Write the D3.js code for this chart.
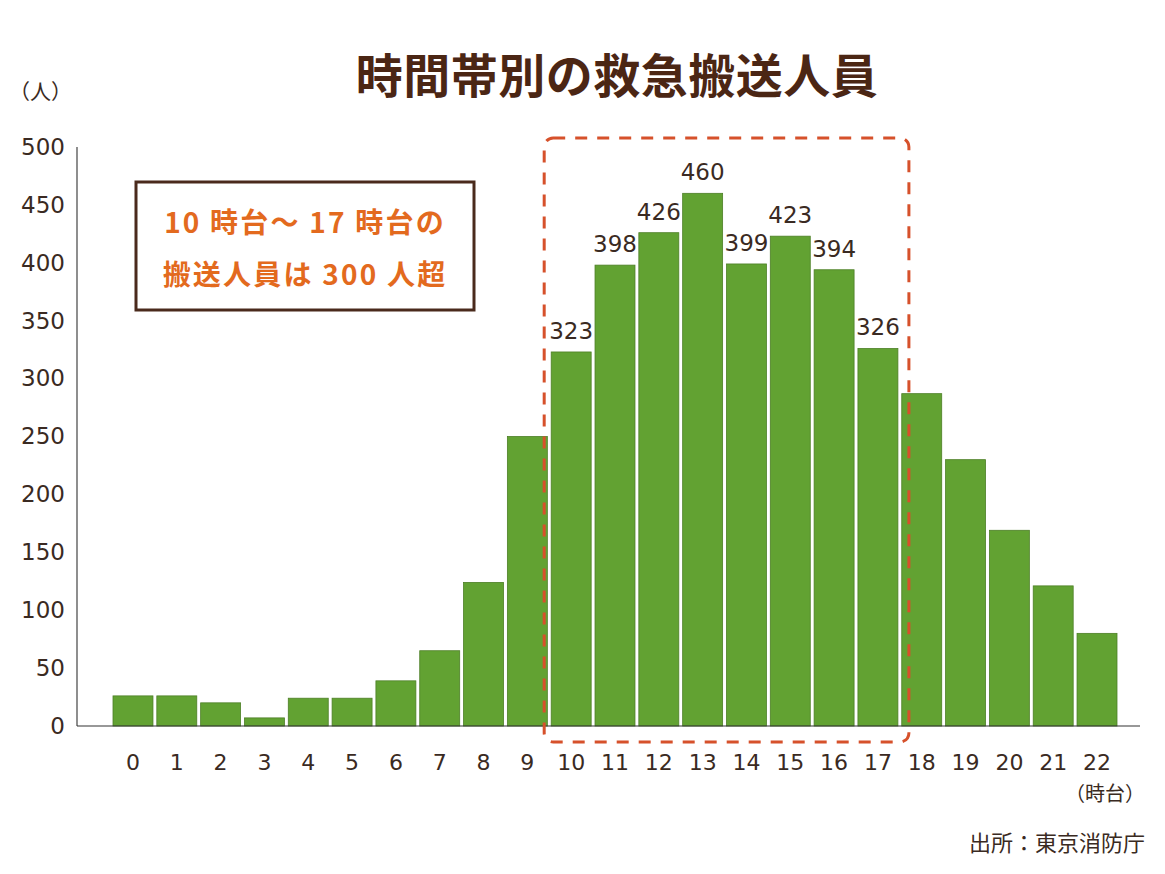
<!DOCTYPE html>
<html><head><meta charset="utf-8">
<script src="https://cdn.jsdelivr.net/npm/d3@7/dist/d3.min.js"></script>
<style>
body{margin:0;background:#fff;}
text{font-family:"DejaVu Sans","Noto Sans CJK JP",sans-serif;}
.jp{font-family:"Noto Sans CJK JP","DejaVu Sans",sans-serif;}
</style></head>
<body><svg id="c" width="1165" height="874"></svg>
<script>
const hours = ["0","1","2","3","4","5","6","7","8","9","10","11","12","13","14","15","16","17","18","19","20","21","22"];
const values = [26,26,20,7,24,24,39,65,124,250,323,398,426,460,399,423,394,326,287,230,169,121,80];
const labeledHours = ["10","11","12","13","14","15","16","17"];
const yTicks = [0,50,100,150,200,250,300,350,400,450,500];
const highlightRange = ["10","17"];

const svg = d3.select("#c");
const x = d3.scaleBand().domain(hours).range([113,1117]).paddingInner(0.088).paddingOuter(0);
const y = d3.scaleLinear().domain([0,500]).range([726,147]);
const textCol = "#3a2a22";

// title
svg.append("text").attr("class","jp").attr("x",617).attr("y",93).attr("text-anchor","middle")
  .attr("font-size",47).attr("font-weight","bold").attr("letter-spacing",0.5).attr("fill","#4b2614").text("時間帯別の救急搬送人員");
svg.append("text").attr("class","jp").attr("x",9).attr("y",99)
  .attr("font-size",21).attr("fill",textCol).text("（人）");

// y axis
const ya = svg.append("g").attr("transform","translate(77,0)")
  .call(d3.axisLeft(y).tickValues(yTicks).tickSize(0).tickPadding(12));
ya.select(".domain").remove();
ya.selectAll("text").attr("font-size",23).attr("fill",textCol).attr("font-family","DejaVu Sans");
svg.append("line").attr("x1",77).attr("x2",77).attr("y1",y(500)).attr("y2",y(0)).attr("stroke","#444").attr("stroke-width",1.2);

// bars
svg.append("g").selectAll("rect").data(hours).join("rect")
  .attr("x",d=>x(d)).attr("width",x.bandwidth())
  .attr("y",(d,i)=>y(values[i])).attr("height",(d,i)=>y(0)-y(values[i]))
  .attr("fill","#62a232").attr("stroke","#4d7f26").attr("stroke-width",0.8);

// baseline
svg.append("line").attr("x1",77).attr("x2",1140).attr("y1",y(0)).attr("y2",y(0)).attr("stroke","#333").attr("stroke-width",1.2);

// x axis labels
const xa = svg.append("g").attr("transform","translate(0,"+y(0)+")")
  .call(d3.axisBottom(x).tickSize(0).tickPadding(28));
xa.select(".domain").remove();
xa.selectAll("text").attr("font-size",22).attr("fill",textCol).attr("font-family","DejaVu Sans");
svg.append("text").attr("class","jp").attr("x",1145).attr("y",801).attr("text-anchor","end")
  .attr("font-size",20).attr("fill",textCol).text("（時台）");

// value labels
svg.append("g").selectAll("text").data(labeledHours).join("text")
  .attr("x",d=>x(d)+x.bandwidth()/2).attr("y",d=>y(values[hours.indexOf(d)])-13)
  .attr("text-anchor","middle").attr("font-size",23).attr("fill",textCol).attr("font-family","DejaVu Sans")
  .text(d=>values[hours.indexOf(d)]);

// dashed highlight
const hx0 = x(highlightRange[0]) - 7, hx1 = x(highlightRange[1]) + x.bandwidth() + 11;
svg.append("rect").attr("x",hx0).attr("y",138).attr("width",hx1-hx0).attr("height",742-138)
  .attr("rx",9).attr("fill","none").attr("stroke","#d6512b").attr("stroke-width",3)
  .attr("stroke-dasharray","12,10");

// annotation box
svg.append("rect").attr("x",136).attr("y",182).attr("width",338).attr("height",128)
  .attr("fill","#fff").attr("stroke","#4a2a1c").attr("stroke-width",3);
svg.append("text").attr("class","jp").attr("x",305).attr("y",233).attr("text-anchor","middle")
  .attr("font-size",28).attr("font-weight","bold").attr("letter-spacing",2.2).attr("fill","#e36a1e").text("10 時台～ 17 時台の");
svg.append("text").attr("class","jp").attr("x",305).attr("y",285).attr("text-anchor","middle")
  .attr("font-size",28).attr("font-weight","bold").attr("letter-spacing",2.2).attr("fill","#e36a1e").text("搬送人員は 300 人超");

// source
svg.append("text").attr("class","jp").attr("x",1145).attr("y",851).attr("text-anchor","end")
  .attr("font-size",22).attr("fill",textCol).text("出所：東京消防庁");
</script></body></html>
